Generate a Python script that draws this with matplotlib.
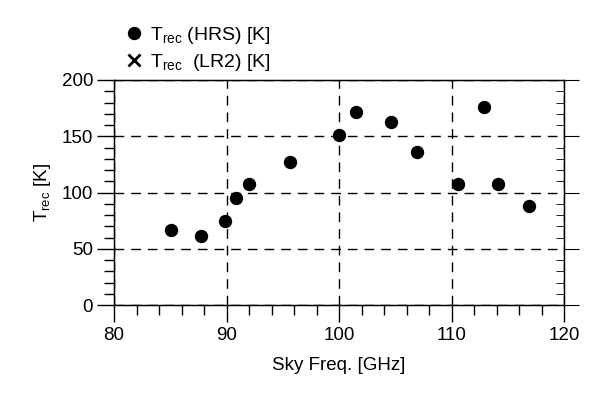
import numpy as np
import matplotlib
matplotlib.use("Agg")
import matplotlib.pyplot as plt
from matplotlib.ticker import MultipleLocator

plt.rcParams['font.family'] = ['Liberation Sans', 'DejaVu Sans']
plt.rcParams['font.size'] = 13.5
plt.rcParams['mathtext.default'] = 'regular'

# receiver temperature vs sky frequency
freq_hrs = [85.1, 87.7, 89.85, 90.8, 92.0, 95.6, 100.0, 101.5, 104.6, 106.9, 110.6, 112.9, 114.1, 116.9]
trec_hrs = [67, 61, 75, 95, 108, 127, 151, 172, 163, 136, 108, 176, 108, 88]
freq_lr2 = []
trec_lr2 = []

fig = plt.figure(figsize=(5.92, 3.93), dpi=100)
ax = fig.add_axes([114/592, 88/393, 450/592, 225/393])

ax.plot(freq_hrs, trec_hrs, 'o', c='black', ms=8.6, label=r'T$_{rec}$ (HRS) [K]')
ax.plot(freq_lr2, trec_lr2, 'x', c='black', ms=9, mew=2, label=r'T$_{rec}$  (LR2) [K]')

ax.set_xlim(80, 120)
ax.set_ylim(0, 200)
ax.xaxis.set_major_locator(MultipleLocator(10))
ax.xaxis.set_minor_locator(MultipleLocator(2))
ax.yaxis.set_major_locator(MultipleLocator(50))
ax.yaxis.set_minor_locator(MultipleLocator(10))
ax.tick_params(which='major', direction='out', length=12, width=1, color='black')
ax.tick_params(which='minor', direction='out', length=7, width=1)
ax.tick_params(axis='x', pad=4)
ax.tick_params(axis='y', pad=3)
for s in ax.spines.values():
    s.set_linewidth(1)

ax.grid(which='major', ls=(0, (7, 5)), c='black', lw=1)

# right side ticks: majors out, minors in
ax2 = ax.twinx()
ax2.set_ylim(0, 200)
ax2.yaxis.set_major_locator(MultipleLocator(50))
ax2.yaxis.set_minor_locator(MultipleLocator(10))
ax2.tick_params(which='major', direction='out', length=11, labelright=False)
ax2.tick_params(which='minor', direction='in', length=6)

ax.set_xlabel('Sky Freq. [GHz]', labelpad=9)
ax.set_ylabel(r'T$_{rec}$ [K]', labelpad=6)

fig.legend(loc='upper left', bbox_to_anchor=(126/592, 1 - 25/393), frameon=False,
           handlelength=0.8, handletextpad=0.44, labelspacing=0.3, borderaxespad=0,
           borderpad=0, fontsize=14)

plt.savefig('out.png', dpi=100)
